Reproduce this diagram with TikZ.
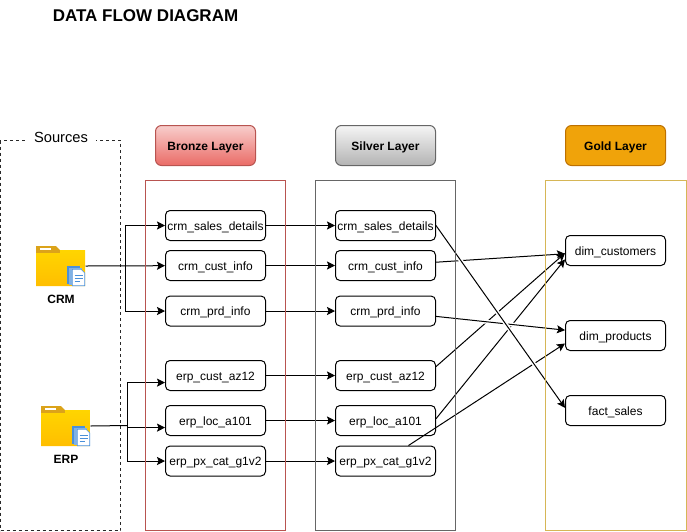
\documentclass[tikz,border=0pt]{standalone}
\usepackage{fontspec}
\setmainfont{Liberation Sans}
\usetikzlibrary{arrows.meta}

\definecolor{bronzeline}{HTML}{B85450}
\definecolor{bronzetop}{HTML}{F8CECC}
\definecolor{bronzebot}{HTML}{EA6B66}
\definecolor{silverline}{HTML}{666666}
\definecolor{silvertop}{HTML}{F5F5F5}
\definecolor{silverbot}{HTML}{B3B3B3}
\definecolor{goldline}{HTML}{BD7000}
\definecolor{goldfill}{HTML}{F0A30A}
\definecolor{goldframe}{HTML}{D6B656}
\definecolor{foldertab}{HTML}{DBA31A}
\definecolor{foldertop}{HTML}{FFD500}
\definecolor{folderbot}{HTML}{FFBE00}
\definecolor{docblue}{HTML}{4A90D9}

\begin{document}
\begin{tikzpicture}[x=1pt,y=-1pt,line width=1pt,
    tablebox/.style ={draw, rounded corners=4.5pt, minimum width=100pt, minimum height=30pt,
       inner sep=0pt, text height=12pt, text depth=3pt, font=\fontsize{12}{14}\selectfont},
    layerhead/.style ={draw, rounded corners=6pt, minimum width=100pt, minimum height=40pt,
       inner sep=0pt, text height=12pt, text depth=3pt, font=\fontsize{12}{14}\selectfont\bfseries},
    layerframe/.style ={draw, minimum width=140pt, minimum height=350pt, inner sep=0pt},
    flow/.style ={draw, -{Stealth[length=8pt,width=8pt,inset=1.5pt]}},
    jump/.style ={preaction={draw=white, line width=4pt, -, shorten >=30pt, shorten <=5pt}},
    srclabel/.style ={inner sep=0pt, font=\fontsize{12}{14}\selectfont\bfseries},
    foldericon/.pic ={
       \node[minimum width=49pt, minimum height=40pt, inner sep=0pt] (-box) at (24.5,20) {};
       \fill[foldertab] (0,0) -- (20,0) -- (24,4) -- (24,7) -- (0,7) -- cycle;
       \fill[white] (4,2) rectangle (15,4);
       \shade[top color=foldertop, bottom color=folderbot] (0,7) -- (24,7) -- (24,4) -- (49,4) -- (49,40) -- (0,40) -- cycle;
       \fill[docblue] (31,20) rectangle (44,38);
       \fill[docblue!70] (33,22) rectangle (46,39);
       \fill[white] (36,23) -- (45,23) -- (49,27) -- (49,40) -- (36,40) -- cycle;
       \draw[docblue,line width=0.6pt] (36.3,23.3) -- (45,23.3) -- (48.7,27) -- (48.7,39.7) -- (36.3,39.7) -- cycle;
       \draw[docblue,line width=0.8pt] (38.5,29) -- (47,29) (38.5,32) -- (47,32) (38.5,35) -- (44,35);
    }]
   \useasboundingbox (0,0) rectangle (687,531);

   \node[inner sep=0pt, font=\fontsize{17}{19}\selectfont\bfseries] (title) at (145.5,15.5) {DATA FLOW DIAGRAM};

   \draw[silverline!40!black,dash pattern=on 3pt off 3pt] (0.5,530.5) -- (120.5,530.5) -- (120.5,140.5) -- (0.5,140.5) -- cycle;
   \node[fill=white, inner xsep=8pt, inner ysep=1pt, font=\fontsize{14.7}{16}\selectfont] (sources) at (61,137.5) {Sources};

   \pic (crm) at (36,246) {foldericon};
   \pic (erp) at (41,406) {foldericon};
   \node[srclabel] (crmtext) at (61,299.5) {CRM};
   \node[srclabel] (erptext) at (66,459.5) {ERP};

   \node[layerhead,draw=bronzeline,top color=bronzetop,bottom color=bronzebot] (bronzehead) at (205.5,145.5) {Bronze Layer};
   \node[layerhead,draw=silverline,top color=silvertop,bottom color=silverbot] (silverhead) at (385.5,145.5) {Silver Layer};
   \node[layerhead,draw=goldline,fill=goldfill] (goldhead) at (615.5,145.5) {Gold Layer};

   \node[tablebox] (bsales) at (215.5,225.5) {crm\_sales\_details};
   \node[tablebox] (bcust)  at (215.5,265.5) {crm\_cust\_info};
   \node[tablebox] (bprd)   at (215.5,311)   {crm\_prd\_info};
   \node[tablebox] (baz)    at (215.5,375.5) {erp\_cust\_az12};
   \node[tablebox] (bloc)   at (215.5,420.5) {erp\_loc\_a101};
   \node[tablebox] (bpx)    at (215.5,461)   {erp\_px\_cat\_g1v2};

   \node[tablebox] (ssales) at (385.5,225.5) {crm\_sales\_details};
   \node[tablebox] (scust)  at (385.5,265.5) {crm\_cust\_info};
   \node[tablebox] (sprd)   at (385.5,311)   {crm\_prd\_info};
   \node[tablebox] (saz)    at (385.5,375.5) {erp\_cust\_az12};
   \node[tablebox] (sloc)   at (385.5,420.5) {erp\_loc\_a101};
   \node[tablebox] (spx)    at (385.5,461)   {erp\_px\_cat\_g1v2};

   \node[tablebox] (gcust) at (615.5,250.5) {dim\_customers};
   \node[tablebox] (gprod) at (615.5,335.5) {dim\_products};
   \node[tablebox] (gfact) at (615.5,410.5) {fact\_sales};

   \coordinate (crmbus) at (125,265.5);
   \coordinate (erpbus) at (127.5,425.5);

   \draw[flow] (crm-box.east) to (bcust);
   \draw[flow] (crmbus) |- (bsales);
   \draw[flow] (crmbus) |- (bprd);
   \draw (erp-box.east) to (erpbus);
   \draw[flow] (erpbus) |- (baz.188.5);
   \draw[flow] (erpbus) |- (bloc.188.5);
   \draw[flow] (erpbus) |- (bpx);

   \draw[flow] (bsales) to (ssales);
   \draw[flow] (bcust) to (scust);
   \draw[flow] (bprd) to (sprd);
   \draw[flow] (baz) to (saz);
   \draw[flow] (bloc) to (sloc);
   \draw[flow] (bpx) to (spx);

   \draw[flow] (spx.34) to (gprod.189);
   \draw[flow] (sloc.2) to (gcust.190.8);
   \draw[flow] (saz.10) to (gcust.183);
   \draw[flow] (scust) to (gcust);
   \draw[flow,jump] (sprd) to (gprod);
   \draw[flow,jump] (ssales.east) to (gfact.177);

   \node[layerframe,draw=bronzeline] (bronzeframe) at (215.5,355.5) {};
   \node[layerframe,draw=silverline] (silverframe) at (385.5,355.5) {};
   \node[layerframe,draw=goldframe,minimum width=141pt] (goldframe) at (615.5,355.5) {};
 \end{tikzpicture}
\end{document}
